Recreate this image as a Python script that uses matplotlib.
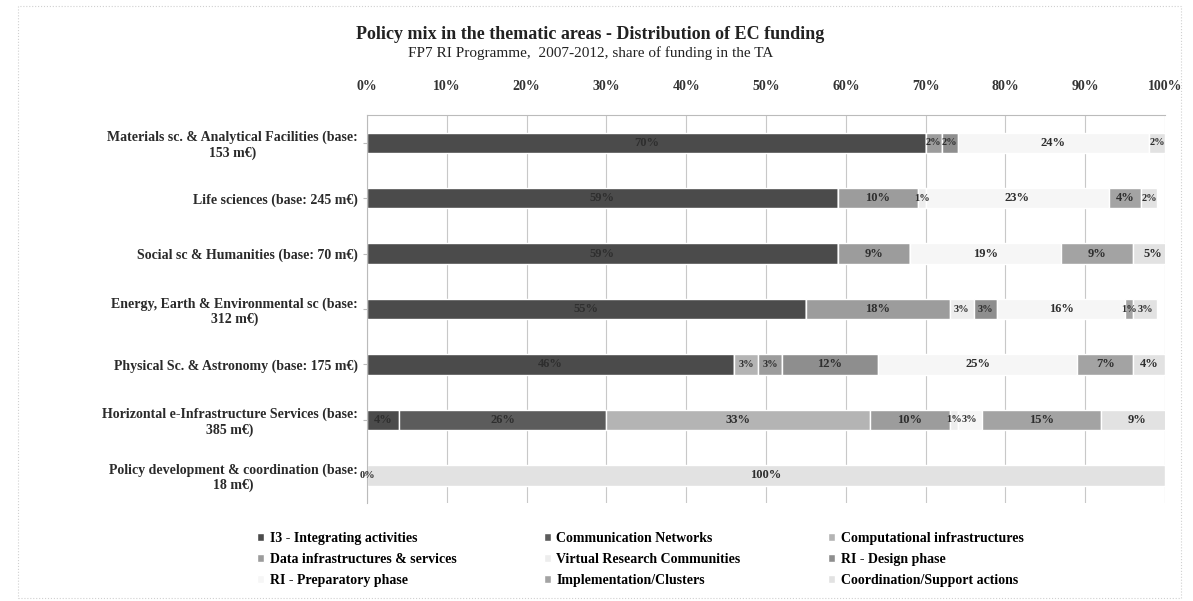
import matplotlib.pyplot as plt
import numpy as np

plt.rcParams['font.family'] = ['Liberation Serif', 'DejaVu Serif']

rows = [
    'Materials sc. & Analytical Facilities (base:\n153 m€)',
    'Life sciences (base: 245 m€)',
    'Social sc & Humanities (base: 70 m€)',
    'Energy, Earth & Environmental sc (base:\n312 m€)',
    'Physical Sc. & Astronomy (base: 175 m€)',
    'Horizontal e-Infrastructure Services (base:\n385 m€)',
    'Policy development & coordination (base:\n18 m€)',
]

series = [
    'I3 - Integrating activities',
    'Communication Networks',
    'Computational infrastructures',
    'Data infrastructures & services',
    'Virtual Research Communities',
    'RI - Design phase',
    'RI - Preparatory phase',
    'Implementation/Clusters',
    'Coordination/Support actions',
]

nan = np.nan
i3 = [70, 59, 59, 55, 46, 4, 0]
comm = [nan, nan, nan, nan, nan, 26, nan]
comp = [nan, nan, nan, nan, 3, 33, nan]
data = [2, 10, 9, 18, 3, 10, nan]
vrc = [nan, 1, nan, 3, nan, 1, nan]
ri_design = [2, nan, nan, 3, 12, nan, nan]
ri_prep = [24, 23, 19, 16, 25, 3, nan]
impl = [nan, 4, 9, 1, 7, 15, nan]
coord = [2, 2, 5, 3, 4, 9, 100]

values = [i3, comm, comp, data, vrc, ri_design, ri_prep, impl, coord]
colors = ['#4b4b4b', '#5c5c5c', '#b4b4b4', '#9c9c9c', '#ededed',
          '#8e8e8e', '#f6f6f6', '#a3a3a3', '#e2e2e2']

fig = plt.figure(figsize=(11.93, 6.01), dpi=100)
ax = fig.add_axes([0.3076, 0.163, 0.669, 0.6455])

y = np.arange(len(rows))
left = np.zeros(len(rows))
handles = []
for name, vals, col in zip(series, values, colors):
    v = np.array(vals, dtype=float)
    w = np.nan_to_num(v)
    h = ax.barh(y, w, left=left, height=0.37, color=col,
                edgecolor='white', linewidth=1, label=name)
    handles.append(h)
    for yi, (vv, l) in enumerate(zip(v, left)):
        if not np.isnan(vv):
            fs = 9 if vv >= 4 else 7.5
            ax.text(l + vv / 2, yi, '%d%%' % vv, ha='center', va='center',
                    fontsize=fs, fontweight='bold', color='#2e2e2e')
    left = left + w

ax.set_xlim(0, 100)
ax.set_ylim(len(rows) - 0.5, -0.5)
ax.xaxis.tick_top()
ax.set_xticks(np.arange(0, 101, 10))
ax.set_xticklabels(['%d%%' % t for t in range(0, 101, 10)],
                   fontsize=10, fontweight='bold', color='#333333')
ax.set_yticks(y)
ax.set_yticklabels(rows, fontsize=10, fontweight='bold', color='#2a2a2a',
                   multialignment='center')
ax.tick_params(axis='x', length=0, pad=16)
ax.tick_params(axis='y', length=3, color='#bbbbbb')
ax.grid(axis='x', color='#c8c8c8', linewidth=0.8)
ax.set_axisbelow(True)
for s in ['right', 'bottom']:
    ax.spines[s].set_visible(False)
for s in ['left', 'top']:
    ax.spines[s].set_color('#bbbbbb')

fig.text(0.495, 0.935, 'Policy mix in the thematic areas - Distribution of EC funding',
         ha='center', fontsize=13, fontweight='bold', color='#222222')
fig.text(0.495, 0.905, 'FP7 RI Programme,  2007-2012, share of funding in the TA',
         ha='center', fontsize=11, color='#222222')

# legend filled column-wise, so reorder to read row-wise
order = [0, 3, 6, 1, 4, 7, 2, 5, 8]
fig.legend([handles[i] for i in order], [series[i] for i in order],
           ncol=3, loc='upper left', bbox_to_anchor=(0.205, 0.135),
           frameon=False, handlelength=0.5, handleheight=0.5,
           handletextpad=0.4, columnspacing=6.3, labelspacing=0.55,
           prop={'size': 10, 'weight': 'bold'})

fig.patches.append(plt.Rectangle((0.015, 0.005), 0.975, 0.985, transform=fig.transFigure,
                                 fill=False, edgecolor='#d0d0d0', linewidth=0.8,
                                 linestyle=':'))

fig.savefig('out.png', dpi=100)
